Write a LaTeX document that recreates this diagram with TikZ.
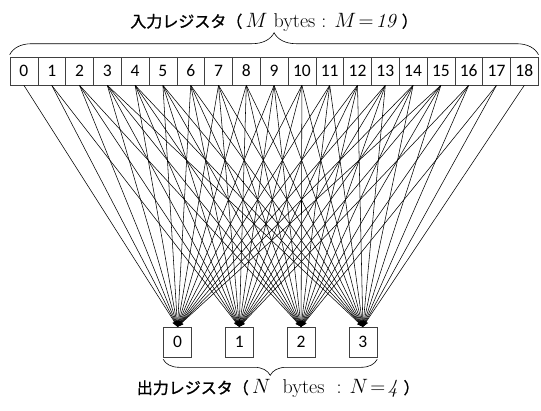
\documentclass[tikz,border=0pt]{standalone}
\usepackage{fontspec}
\newfontfamily\jpfont[FakeBold=1.2]{Noto Sans CJK JP}
\newfontfamily\cellfont{Carlito}
\usetikzlibrary{arrows.meta, positioning, decorations.pathreplacing}
\tikzset{
  inreg/.style    = {draw=black!75, line width=0.6pt, inner sep=0pt,
                     minimum width=27.8pt, minimum height=28pt,
                     font=\cellfont\fontsize{17.5}{17.5}\selectfont},
  outreg/.style   = {draw=black!75, line width=0.6pt, inner sep=0pt,
                     minimum width=28pt, minimum height=30pt,
                     font=\cellfont\fontsize{17.5}{17.5}\selectfont},
  wire/.style     = {-{Stealth[length=6pt, width=4.5pt]}, line width=0.55pt},
  regbrace/.style = {decorate, line width=0.6pt,
                     decoration={brace, amplitude=#1, raise=2pt}},
  reglabel/.style = {inner sep=1pt, font=\fontsize{20}{22}\selectfont},
}
\newcommand{\jptext}[1]{{\jpfont\fontsize{16}{20}\selectfont #1}}

\begin{document}
\begin{tikzpicture}[x=1pt, y=-1pt]
\useasboundingbox (0,0) rectangle (541,410);

% ===== input register: M = 19 cells =====
\foreach \i in {0,...,18}
  \node[inreg] (in\i) at ({10+27.8*(\i+0.5)}, 71) {\i};

% ===== output register: N = 4 cells =====
\foreach \j in {0,...,3}
  \node[outreg] (out\j) at ({177.5+61.8*\j}, 342) {\j};

% ===== wires: output j reads inputs j .. j+15 =====
\foreach \j in {0,...,3}
  \foreach \k in {0,...,15} {
    \pgfmathtruncatemacro{\i}{\j+\k}
    \draw[wire] (in\i.south) -- (out\j.north);
  }

% ===== braces and labels =====
\draw[regbrace=22pt] (in0.north west) -- (in18.north east)
  node[reglabel, midway, above=24pt] (inlabel)
  {\jptext{入力レジスタ（}\,$M$ bytes : $M\!=\!\mathit{19}$\ \jptext{）}};
\draw[regbrace=16pt] (out3.south east) -- (out0.south west)
  node[reglabel, midway, below=21pt, xshift=8pt] (outlabel)
  {\jptext{出力レジスタ（}\,$N$\ \ bytes\ \ : $N\!=\!\mathit{4}$\ \jptext{）}};

\end{tikzpicture}
\end{document}
